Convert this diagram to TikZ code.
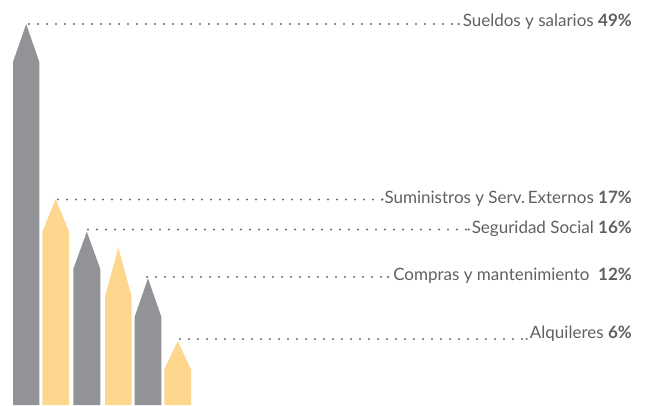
\documentclass[tikz,border=0pt]{standalone}
\usepackage{fontspec}
\setmainfont{Lato}
\definecolor{bargray}{HTML}{929396}
\definecolor{baryel}{HTML}{FDD78E}
\definecolor{dotgray}{HTML}{6A6B6E}
\definecolor{txtgray}{HTML}{5F6063}
\tikzset{
  lbl/.style={anchor=base east, inner sep=0pt, text=txtgray, font=\fontsize{17}{19}\selectfont},
  dotline/.style={dotgray, line width=2.4pt, line cap=round, dash pattern=on 0pt off 9pt},
  enddot/.style={fill=dotgray, draw=none},
  graybar/.style={fill=bargray, draw=none},
  yelbar/.style={fill=baryel, draw=none}
}
\begin{document}
\begin{tikzpicture}[x=1pt,y=-1pt]
\useasboundingbox (0,0) rectangle (646,405);
% bars
\fill[graybar] (13,405) -- (13,62) -- (26.2,24) -- (39.3,62) -- (39.3,405) -- cycle;
\fill[yelbar] (42.3,405) -- (42.3,231.7) -- (55.7,199) -- (69,231.7) -- (69,405) -- cycle;
\fill[graybar] (73.3,405) -- (73.3,269) -- (86.8,231.7) -- (100.3,269) -- (100.3,405) -- cycle;
\fill[yelbar] (105,405) -- (105,296.7) -- (118.3,247.7) -- (131.7,296.7) -- (131.7,405) -- cycle;
\fill[graybar] (134.7,405) -- (134.7,316.7) -- (148,278.3) -- (161.3,316.7) -- (161.3,405) -- cycle;
\fill[yelbar] (164.3,405) -- (164.3,369.3) -- (177.7,341) -- (191,369.3) -- (191,405) -- cycle;
% start points of leaders
\coordinate (s1) at (29,24);
\coordinate (s2) at (58,199.5);
\coordinate (s3) at (88,229.5);
\coordinate (s4) at (147,277);
\coordinate (s5) at (180,339);
% labels
\node[lbl] (l1) at (632,26) {Sueldos y salarios \textbf{49\%}};
\node[lbl] (l2) at (632,203) {Suministros y Serv.\,Externos \textbf{17\%}};
\node[lbl] (l3) at (632,233) {Seguridad Social \textbf{16\%}};
\node[lbl] (l4) at (632,280) {Compras y mantenimiento\ \ \textbf{12\%}};
\node[lbl] (l5) at (632,338) {Alquileres \textbf{6\%}};
% end points of leaders
\coordinate (e1) at ([xshift=-4pt]s1 -| l1.west);
\coordinate (e2) at ([xshift=-2pt]s2 -| l2.west);
\coordinate (e3) at ([xshift=-3pt]s3 -| l3.west);
\coordinate (e4) at ([xshift=-5pt]s4 -| l4.west);
\coordinate (e5) at ([xshift=-3pt]s5 -| l5.west);
% leaders
\foreach \i in {1,...,5}{
  \draw[dotline] (s\i) -- (e\i);
  \fill[enddot] (e\i) circle (1.2pt);
}
\end{tikzpicture}
\end{document}
